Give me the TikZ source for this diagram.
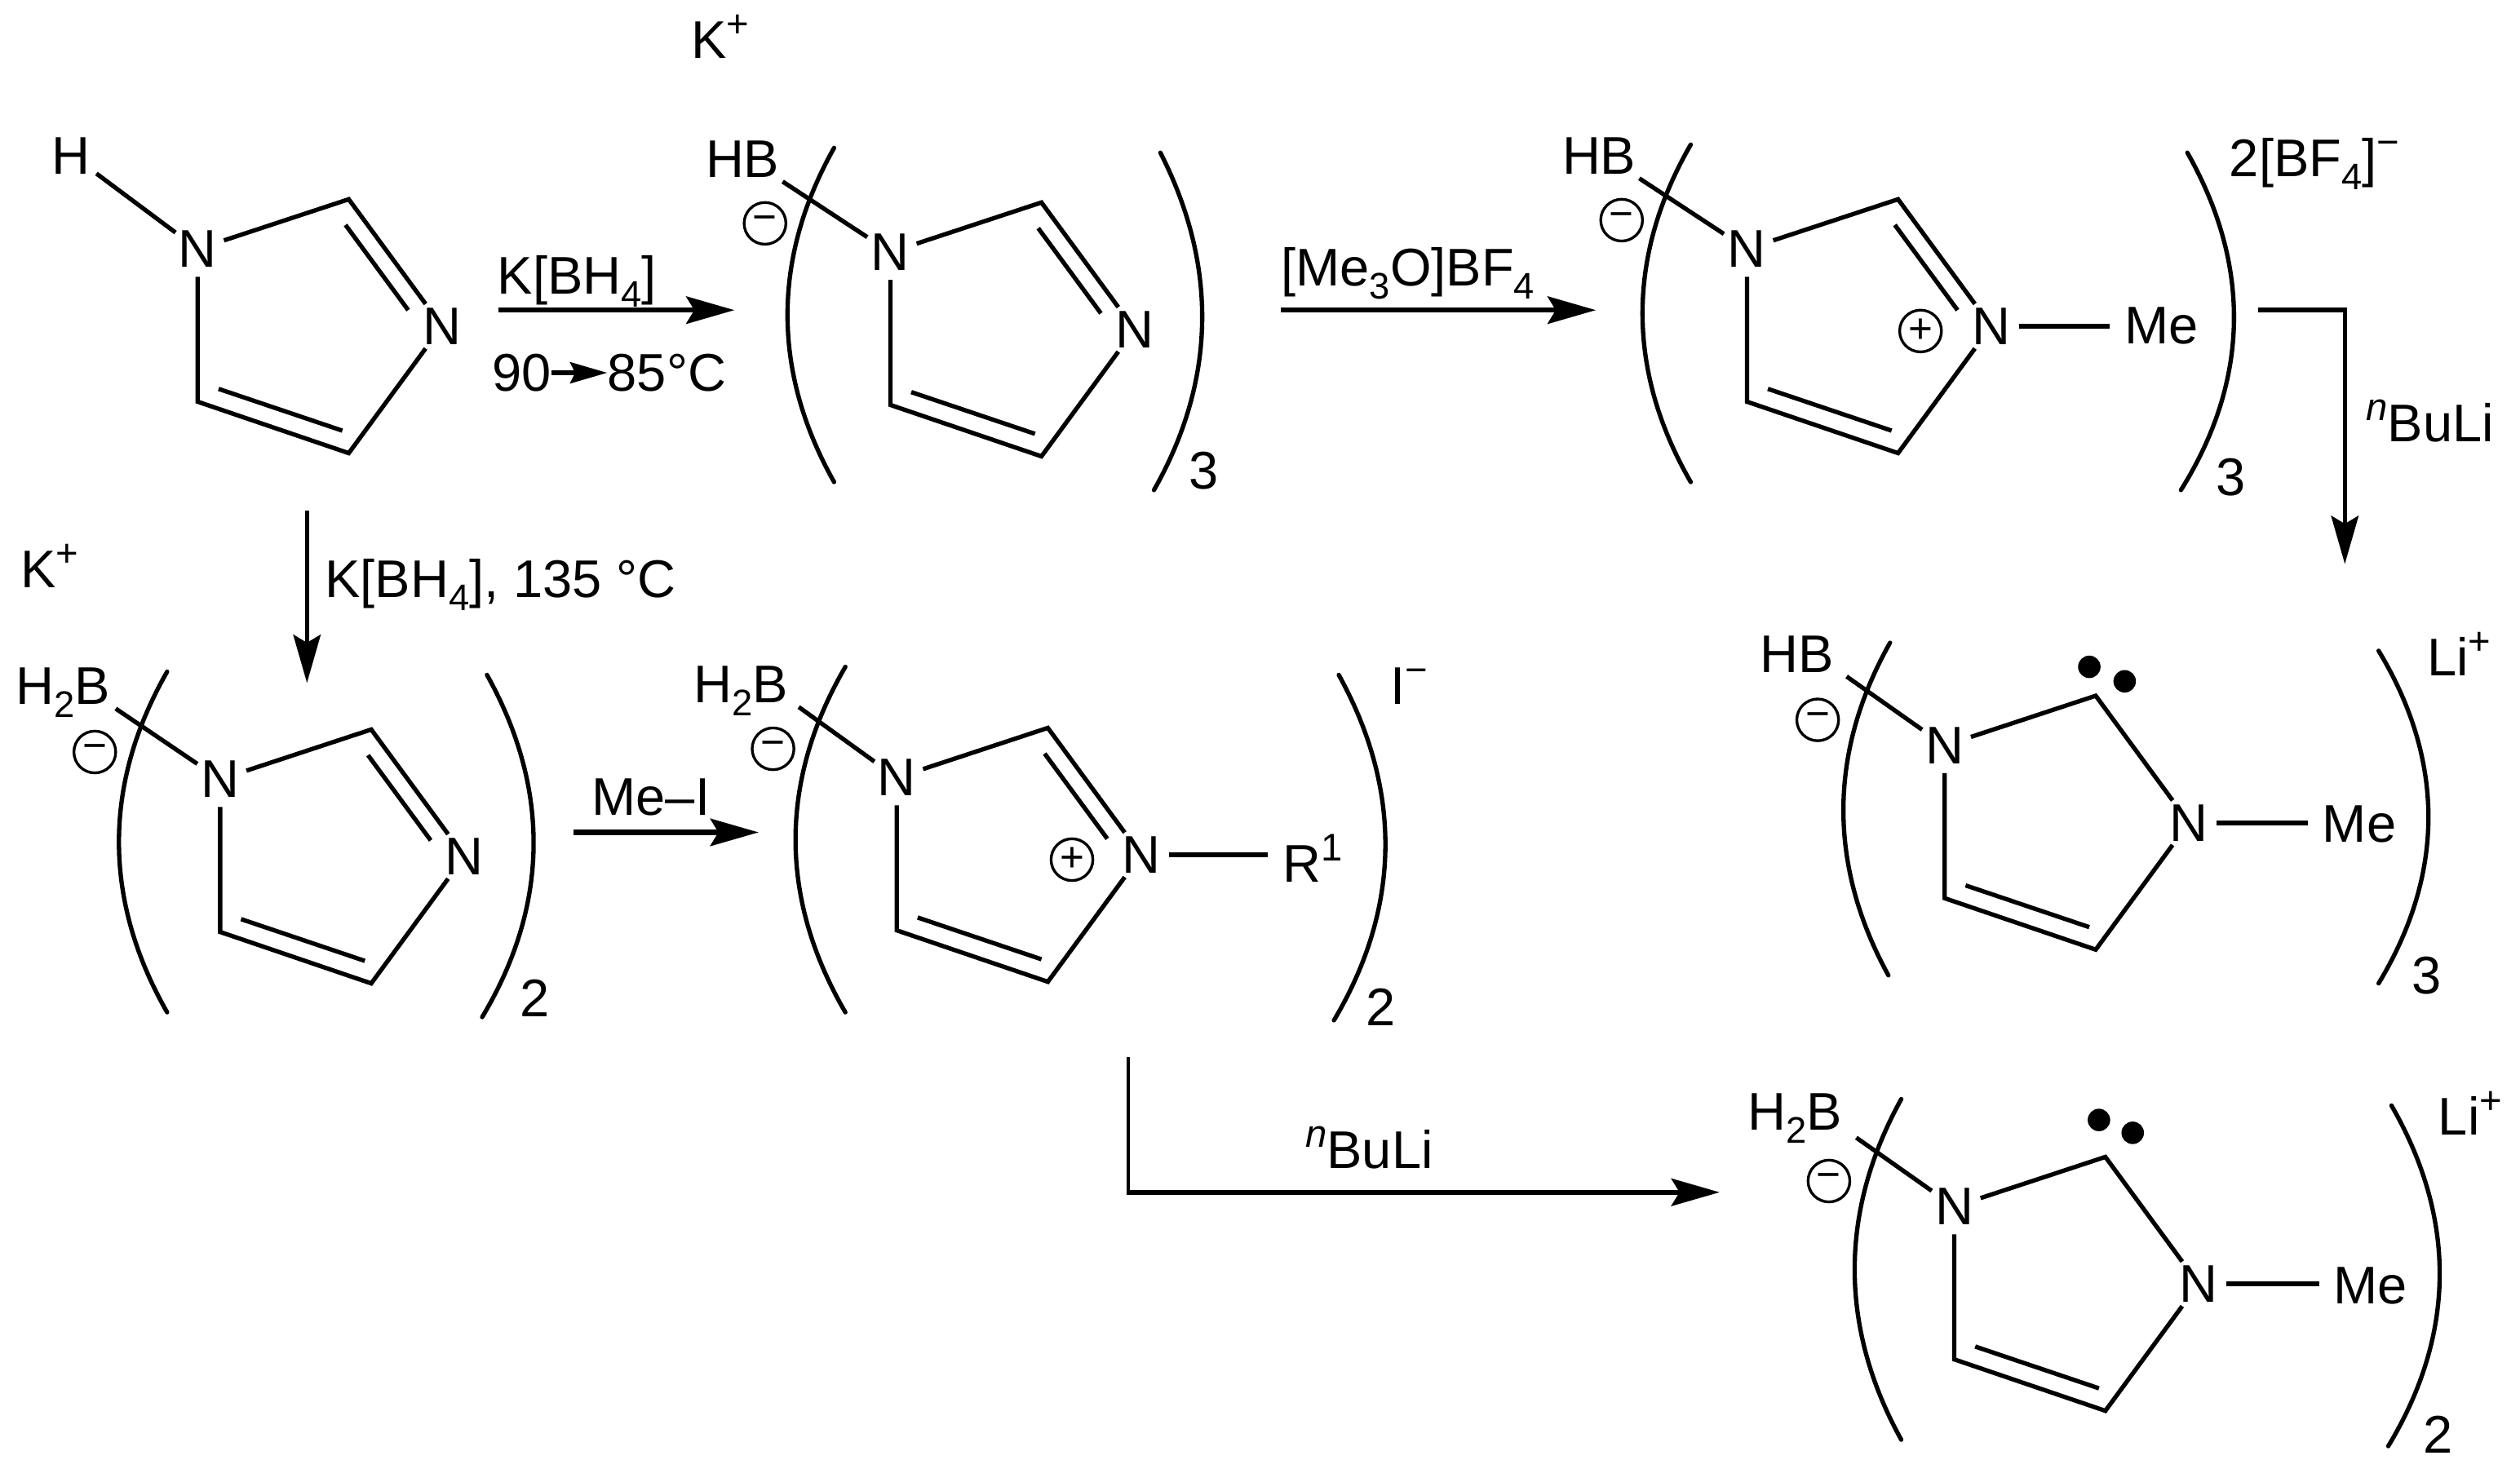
\documentclass[tikz,border=0pt]{standalone}
\usepackage{fontspec}
\setmainfont{Liberation Sans}
\usetikzlibrary{arrows.meta,calc}
\newcommand{\lowtxt}[1]{\raisebox{-0.24em}{\fontsize{23}{23}\selectfont #1}}
\newcommand{\hightxt}[1]{\raisebox{0.40em}{\fontsize{24}{24}\selectfont #1}}
% atoms and bonds of one five-membered ring; #1 prefix, #2,#3 position of N1
\newcommand{\ringbase}[3]{%
  \node[atom] (#1n1) at (#2,#3) {N};
  \node[atom] (#1n3) at ($(#2,#3)+(152,48)$) {N};
  \coordinate (#1c2) at ($(#2,#3)+(94,-31)$);
  \coordinate (#1c4) at ($(#2,#3)+(94,127)$);
  \coordinate (#1c5) at ($(#2,#3)+(0,95)$);
  \coordinate (#1i4a) at ($(#2,#3)+(13,87)$);
  \coordinate (#1i4b) at ($(#2,#3)+(90,113)$);
  \draw[bond] (#1n1) -- (#1c2) -- (#1n3);
  \draw[bond] (#1n3) -- (#1c4) -- (#1c5) -- (#1n1);
  \draw[bond] (#1i4a) -- (#1i4b);
}
% inner line of the C=N double bond
\newcommand{\ringdouble}[3]{%
  \coordinate (#1i2a) at ($(#2,#3)+(92,-15)$);
  \coordinate (#1i2b) at ($(#2,#3)+(131,38)$);
  \draw[bond] (#1i2a) -- (#1i2b);
}
% curved bracket: x0 y0 x1 y1 xmid
\newcommand{\paren}[5]{%
  \pgfmathsetmacro{\cya}{#2+(#4-#2)*0.33}
  \pgfmathsetmacro{\cyb}{#2+(#4-#2)*0.67}
  \pgfmathsetmacro{\cxq}{(8*#5-#1-#3)/6}
  \draw[brk] (#1,#2) .. controls (\cxq,\cya) and (\cxq,\cyb) .. (#3,#4);
}
\tikzset{
  bond/.style={line width=2.7pt,line cap=butt,line join=miter},
  sub/.style={line width=3pt,shorten >=9pt},
  brk/.style={line width=2.7pt,line cap=round},
  atom/.style={circle,inner sep=0pt,minimum size=34pt,font=\fontsize{33}{33}\selectfont},
  lab/.style={inner sep=0pt,font=\fontsize{33}{33}\selectfont},
  chg/.style={circle,draw,line width=1.7pt,inner sep=0pt,minimum size=26pt,font=\fontsize{26}{26}\selectfont},
  rxn/.style={line width=3.2pt,-{Stealth[length=30pt,width=17pt,inset=5pt]}},
  rxnv/.style={line width=2.5pt,-{Stealth[length=30pt,width=17pt,inset=5pt]}},
  rxnsmall/.style={line width=3pt,-{Stealth[length=23pt,width=13pt,inset=3pt]}},
  dot/.style={circle,fill=black,inner sep=0pt,minimum size=14pt},
}
\begin{document}
\begin{tikzpicture}[x=1pt,y=-1pt]
\useasboundingbox[fill=white] (0,0) rectangle (1568,922);

% --- Ring A
\ringbase{a}{123}{155}\ringdouble{a}{123}{155}
\node[lab] (ah) at (44,97) {H};
\coordinate (ahb) at (60,108);
\draw[bond] (ahb) -- (an1);

% --- Ring B
\ringbase{b}{554}{157}\ringdouble{b}{554}{157}
\node[lab] (bhb) at (462,99) {HB};
\node[chg] (bm) at (476,139) {−};
\coordinate (bb) at (487,113);
\draw[bond] (bb) -- (bn1);
\paren{519}{92}{519}{300}{490}
\paren{722}{95}{718}{305}{748}
\node[lab] (b3) at (749,293) {3};
\node[lab] (bk) at (448,23) {K\hightxt{+}};

% --- Ring C
\ringbase{c}{1087}{155}\ringdouble{c}{1087}{155}
\node[lab] (chb) at (995,97) {HB};
\node[chg] (cm) at (1009,137) {−};
\node[chg] (cp) at (1195,206) {+};
\coordinate (cb) at (1020,111);
\draw[bond] (cb) -- (cn1);
\node[lab] (cme) at (1345,203) {Me};
\draw[sub] (cn3) -- (cn3 -| cme.west);
\paren{1052}{90}{1052}{300}{1022}
\paren{1361}{95}{1357}{305}{1390}
\node[lab] (c3) at (1388,297) {3};
\node[lab,anchor=west] (canion) at (1387,102) {2[BF\lowtxt{4}]\hightxt{−}};

% --- Ring D
\ringbase{d}{137}{485}\ringdouble{d}{137}{485}
\node[lab] (dhb) at (39,431) {H\lowtxt{2}B};
\node[chg] (dm) at (59,468) {−};
\coordinate (db) at (72,441);
\draw[bond] (db) -- (dn1);
\paren{104}{418}{104}{630}{74}
\paren{303}{420}{300}{633}{332}
\node[lab] (d2) at (333,621) {2};
\node[lab] (dk) at (31,352) {K\hightxt{+}};

% --- Ring E
\ringbase{e}{558}{484}\ringdouble{e}{558}{484}
\node[lab] (ehb) at (461,430) {H\lowtxt{2}B};
\node[chg] (em) at (481,466) {−};
\node[chg] (ep) at (667,535) {+};
\coordinate (eb) at (497,440);
\draw[bond] (eb) -- (en1);
\node[lab,anchor=west] (er) at (798,534) {R\hightxt{1}};
\draw[sub] (en3) -- (en3 -| er.west);
\paren{526}{415}{526}{630}{495}
\paren{833}{420}{830}{635}{862}
\node[lab] (e2) at (859,627) {2};
\node[lab] (ei) at (877,427) {I\hightxt{−}};

% --- Ring F
\ringbase{f}{1210}{464}
\node[lab] (fhb) at (1118,407) {HB};
\node[chg] (fm) at (1131,448) {−};
\coordinate (fb) at (1149,421);
\draw[bond] (fb) -- (fn1);
\node[lab] (fme) at (1468,513) {Me};
\draw[sub] (fn3) -- (fn3 -| fme.west);
\node[dot] (fd1) at (1300,415) {};
\node[dot] (fd2) at (1322,424) {};
\paren{1176}{400}{1175}{607}{1147}
\paren{1480}{405}{1480}{612}{1511}
\node[lab] (f3) at (1510,607) {3};
\node[lab] (fli) at (1530,407) {Li\hightxt{+}};

% --- Ring G
\ringbase{g}{1216}{751}
\node[lab] (ghb) at (1117,696) {H\lowtxt{2}B};
\node[chg] (gm) at (1138,735) {−};
\coordinate (gb) at (1155,708);
\draw[bond] (gb) -- (gn1);
\node[lab] (gme) at (1475,800) {Me};
\draw[sub] (gn3) -- (gn3 -| gme.west);
\node[dot] (gd1) at (1306,697) {};
\node[dot] (gd2) at (1327,705) {};
\paren{1183}{684}{1183}{896}{1154}
\paren{1488}{688}{1486}{900}{1518}
\node[lab] (g2) at (1517,893) {2};
\node[lab] (gli) at (1537,693) {Li\hightxt{+}};

% --- Reaction arrows
\coordinate (r1s) at (310,193); \coordinate (r1e) at (457,193);
\draw[rxn] (r1s) -- (r1e);
\node[lab] (r1t) at (359,175) {K[BH\lowtxt{4}]};
\node[lab,anchor=west] (r1l) at (306,232) {90};
\node[lab,anchor=east] (r1r) at (452,232) {85°C};
\draw[rxnsmall] (r1l) -- (r1r);

\coordinate (r2s) at (797,193); \coordinate (r2e) at (993,193);
\draw[rxn] (r2s) -- (r2e);
\node[lab] (r2t) at (876,170) {[Me\lowtxt{3}O]BF\lowtxt{4}};

\coordinate (r3s) at (1405,193); \coordinate (r3m) at (1459,193); \coordinate (r3e) at (1459,351);
\draw[line width=3.2pt,line cap=butt] (r3s) -- ([xshift=1.25pt]r3m);
\draw[rxnv] ([yshift=-1.6pt]r3m) -- (r3e);
\node[lab] (r3t) at (1512,262) {\hightxt{\itshape n}BuLi};

\coordinate (r4s) at (191,318); \coordinate (r4e) at (191,425);
\draw[rxnv] (r4s) -- (r4e);
\node[lab,anchor=west] (r4t) at (202,364) {K[BH\lowtxt{4}], 135 °C};

\coordinate (r5s) at (357,518); \coordinate (r5e) at (472,518);
\draw[rxn] (r5s) -- (r5e);
\node[lab] (r5t) at (405,496) {Me–I};

\coordinate (r6s) at (702,658); \coordinate (r6m) at (702,742); \coordinate (r6e) at (1070,742);
\draw[line width=2.5pt] (r6s) -- ([yshift=1.6pt]r6m);
\draw[rxn] ([xshift=-1.25pt]r6m) -- (r6e);
\node[lab] (r6t) at (852,714) {\hightxt{\itshape n}BuLi};
\end{tikzpicture}
\end{document}
